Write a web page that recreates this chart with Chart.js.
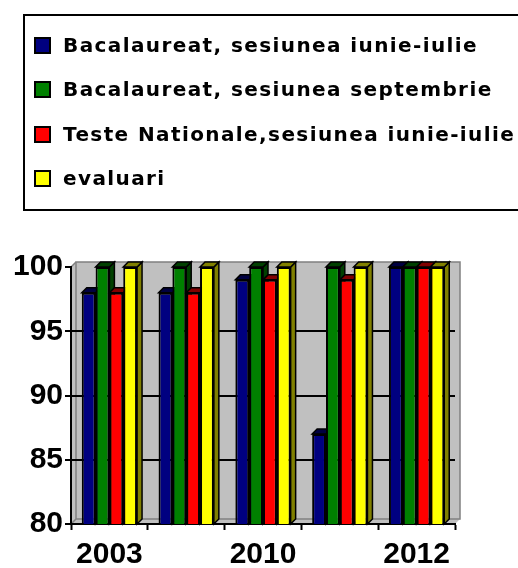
<!DOCTYPE html>
<html>
<head>
<meta charset="utf-8">
<script src="https://cdn.jsdelivr.net/npm/chart.js@4.4.1/dist/chart.umd.min.js"></script>
<style>
  html, body { margin: 0; padding: 0; background: #fff; overflow: hidden; }
  #wrap { position: relative; width: 518px; height: 568px; }
  #chart { position: absolute; left: 0; top: 0; }
  #legend {
    position: absolute; left: 23px; top: 14px; width: 540px; height: 193px;
    border: 2px solid #000; box-sizing: content-box;
    font-family: "DejaVu Sans", sans-serif; font-weight: bold; font-size: 20px; letter-spacing: 1.4px;
  }
  .item { position: absolute; left: 0; height: 26px; line-height: 26px; white-space: nowrap; }
  .sw { position: absolute; left: 9px; top: 5px; width: 13px; height: 13px; border: 2px solid #000; }
  .txt { position: absolute; left: 38px; top: 0; }
</style>
</head>
<body>
<div id="wrap">
  <canvas id="chart" width="518" height="568"></canvas>
  <div id="legend"></div>
</div>
<script>
var years = ['2003', '2009', '2010', '2011', '2012'];
var bacIunie = [98, 98, 99, 87, 100];
var bacSept = [100, 100, 100, 100, 100];
var testeNat = [98, 98, 99, 99, 100];
var evaluari = [100, 100, 100, 100, 100];
var yTicks = [80, 85, 90, 95, 100];

var seriesNames = [
    'Bacalaureat, sesiunea iunie-iulie',
    'Bacalaureat, sesiunea septembrie',
    'Teste Nationale,sesiunea iunie-iulie',
    'evaluari'
];
var fronts = ['#000080', '#008000', '#ff0000', '#ffff00'];
var sides = ['#000040', '#004000', '#800000', '#808000'];
var depth = 5;

// gray back wall behind the bars
var wallPlugin = {
    id: 'wall',
    beforeDraw: function (chart) {
        var a = chart.chartArea, ctx = chart.ctx;
        ctx.save();
        ctx.fillStyle = '#c0c0c0';
        ctx.beginPath();
        ctx.moveTo(a.left, a.bottom);
        ctx.lineTo(a.left, a.top);
        ctx.lineTo(a.left + depth, a.top - depth);
        ctx.lineTo(a.right + depth, a.top - depth);
        ctx.lineTo(a.right + depth, a.bottom - depth);
        ctx.lineTo(a.right, a.bottom);
        ctx.closePath();
        ctx.fill();
        ctx.strokeStyle = '#808080';
        ctx.lineWidth = 1.5;
        ctx.strokeRect(a.left + depth, a.top - depth, a.right - a.left, a.bottom - a.top);
        ctx.beginPath();
        ctx.moveTo(a.left, a.bottom);
        ctx.lineTo(a.left + depth, a.bottom - depth);
        ctx.moveTo(a.left, a.top);
        ctx.lineTo(a.left + depth, a.top - depth);
        ctx.stroke();
        ctx.restore();
    }
};

// side and top faces so the bars look like the old 3d columns
var depthPlugin = {
    id: 'depth',
    beforeDatasetsDraw: function (chart) {
        var ctx = chart.ctx, a = chart.chartArea;
        ctx.save();
        ctx.lineWidth = 1.5;
        ctx.strokeStyle = '#000';
        chart.data.datasets.forEach(function (ds, i) {
            chart.getDatasetMeta(i).data.forEach(function (el) {
                var p = el.getProps(['x', 'y', 'base', 'width'], true);
                var l = p.x - p.width / 2, r = p.x + p.width / 2;
                var b = Math.min(p.base, a.bottom);
                ctx.fillStyle = sides[i];
                ctx.beginPath();
                ctx.moveTo(r, p.y);
                ctx.lineTo(r + depth, p.y - depth);
                ctx.lineTo(r + depth, b - depth);
                ctx.lineTo(r, b);
                ctx.closePath();
                ctx.fill();
                ctx.stroke();
                ctx.beginPath();
                ctx.moveTo(l, p.y);
                ctx.lineTo(l + depth, p.y - depth);
                ctx.lineTo(r + depth, p.y - depth);
                ctx.lineTo(r, p.y);
                ctx.closePath();
                ctx.fill();
                ctx.stroke();
            });
        });
        ctx.restore();
    }
};

var allSeries = [bacIunie, bacSept, testeNat, evaluari];

new Chart(document.getElementById('chart'), {
    type: 'bar',
    data: {
        labels: years,
        datasets: allSeries.map(function (vals, i) {
            return {
                label: seriesNames[i],
                data: vals,
                backgroundColor: fronts[i],
                borderColor: '#000',
                borderWidth: 2,
                borderSkipped: false
            };
        })
    },
    options: {
        responsive: false,
        animation: false,
        events: [],
        layout: { padding: { top: 267, right: 63, left: 0, bottom: 0 } },
        plugins: { legend: { display: false }, tooltip: { enabled: false } },
        datasets: { bar: { categoryPercentage: 0.72, barPercentage: 1.0 } },
        scales: {
            x: {
                afterFit: function (s) { s.height = 44; },
                grid: { drawOnChartArea: false, offset: true, tickLength: 6, tickColor: '#000', tickWidth: 2 },
                border: { color: '#000', width: 2 },
                ticks: {
                    color: '#000', padding: 7, maxRotation: 0, autoSkip: false,
                    font: { family: 'Liberation Sans, Arial, sans-serif', weight: 'bold', size: 30 },
                    callback: function (v, i) { return i % 2 === 0 ? years[i] : ''; }
                }
            },
            y: {
                min: yTicks[0], max: yTicks[yTicks.length - 1],
                afterFit: function (s) { s.width = 71; },
                afterBuildTicks: function (s) { s.ticks = yTicks.map(function (v) { return { value: v }; }); },
                grid: {
                    tickLength: 6, tickColor: '#000', tickWidth: 2, lineWidth: 2,
                    color: function (c) { return (c.tick && c.tick.value > 80 && c.tick.value < 100) ? '#000' : 'rgba(0,0,0,0)'; }
                },
                border: { color: '#000', width: 2 },
                ticks: {
                    color: '#000', padding: 2,
                    font: { family: 'Liberation Sans, Arial, sans-serif', weight: 'bold', size: 30 }
                }
            }
        }
    },
    plugins: [wallPlugin, depthPlugin]
});

var legend = document.getElementById('legend');
seriesNames.forEach(function (name, i) {
    var row = document.createElement('div');
    row.className = 'item';
    row.style.top = (16 + i * 44.3) + 'px';
    var sw = document.createElement('span');
    sw.className = 'sw';
    sw.style.background = fronts[i];
    var t = document.createElement('span');
    t.className = 'txt';
    t.textContent = name;
    row.appendChild(sw);
    row.appendChild(t);
    legend.appendChild(row);
});
</script>
</body>
</html>
